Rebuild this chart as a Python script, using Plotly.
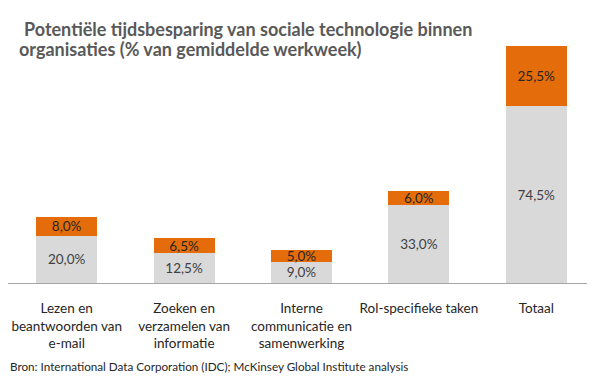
import plotly.graph_objects as go

categories = ["Lezen en<br>beantwoorden van<br>e-mail",
              "Zoeken en<br>verzamelen van<br>informatie",
              "Interne<br>communicatie en<br>samenwerking",
              "Rol-specifieke taken",
              "Totaal"]
base_values = [20.0, 12.5, 9.0, 33.0, 74.5]
top_values = [8.0, 6.5, 5.0, 6.0, 25.5]

def fmt(v):
    return f"{v:.1f}".replace(".", ",") + "%"

# page body has an 8px default margin
OFF = 8
W, H = 595 - OFF, 379 - OFF
ML, MR, MT, MB = 0, 0, 46 - OFF, 96
PW, PH = W - ML - MR, H - MT - MB

FONT = "Lato"

fig = go.Figure()
fig.add_trace(go.Bar(
    x=categories, y=base_values, name="basis",
    marker=dict(color="#d9d9d9", line=dict(width=0)),
    text=[fmt(v) for v in base_values],
    textposition="inside", insidetextanchor="middle", textangle=0,
    constraintext="none",
    textfont=dict(family=FONT, size=13.5, color="#404040"),
    hoverinfo="skip",
))
fig.add_trace(go.Bar(
    x=categories, y=top_values, name="extra",
    marker=dict(color="#e46c0a", line=dict(width=0)),
    text=[fmt(v) for v in top_values],
    textposition="inside", insidetextanchor="middle", textangle=0,
    constraintext="none",
    textfont=dict(family=FONT, size=13.5, color="#262626"),
    hoverinfo="skip",
))

def px_x(p):
    return (p - OFF - ML) / PW

def px_y(p):
    return 1 + (MT - (p - OFF)) / PH

annotations = [
    dict(text="<b>Potentiële tijdsbesparing van sociale technologie binnen</b>",
         xref="paper", yref="paper", x=px_x(22), y=px_y(29),
         xanchor="left", yanchor="middle", showarrow=False,
         font=dict(family=FONT, size=18, color="#595959")),
    dict(text="<b>organisaties (% van gemiddelde werkweek)</b>",
         xref="paper", yref="paper", x=px_x(17), y=px_y(49),
         xanchor="left", yanchor="middle", showarrow=False,
         font=dict(family=FONT, size=18, color="#595959")),
    dict(text="Bron: International Data Corporation (IDC); McKinsey Global Institute analysis",
         xref="paper", yref="paper", x=px_x(8), y=px_y(366),
         xanchor="left", yanchor="middle", showarrow=False,
         font=dict(family=FONT, size=11.7, color="#262626")),
]

fig.update_layout(
    width=W, height=H,
    margin=dict(l=ML, r=MR, t=MT, b=MB, pad=0),
    barmode="stack", bargap=0.48,
    showlegend=False,
    paper_bgcolor="white", plot_bgcolor="white",
    annotations=annotations,
    xaxis=dict(showline=True, linecolor="#a6a6a6", linewidth=1,
               showgrid=False, zeroline=False, ticks="",
               tickfont=dict(family=FONT, size=13.5, color="#262626"),
               ticklabelstandoff=13, fixedrange=True),
    yaxis=dict(range=[0, 100], visible=False, showgrid=False,
               zeroline=False, fixedrange=True),
)

fig.write_html("out.html")
